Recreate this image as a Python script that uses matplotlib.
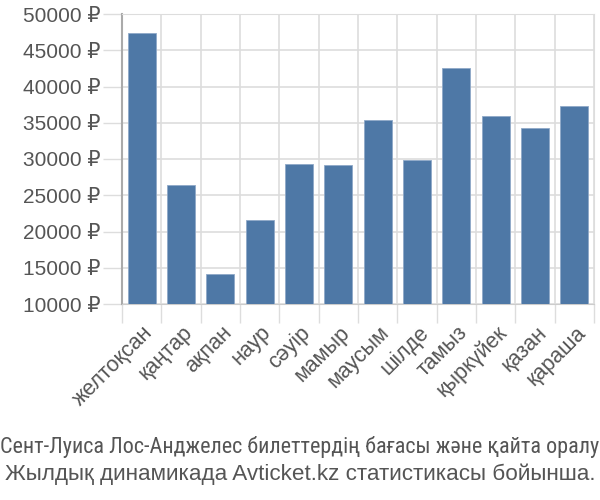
import matplotlib
matplotlib.use("Agg")
import matplotlib.pyplot as plt
import matplotlib.transforms as mtransforms
import numpy as np

months = ["желтоқсан", "қаңтар", "ақпан", "наур", "сәуір", "мамыр", "маусым",
          "шілде", "тамыз", "қыркүйек", "қазан", "қараша"]
prices = [47340, 26370, 14180, 21540, 29310, 29130, 35380, 29900, 42550, 35930, 34320, 37310]
yticks = [10000, 15000, 20000, 25000, 30000, 35000, 40000, 45000, 50000]
caption = ["Сент-Луиса Лос-Анджелес билеттердің бағасы және қайта оралу",
           "Жылдық динамикада Avticket.kz статистикасы бойынша."]

fam = ["Liberation Sans", "DejaVu Sans"]
nfam = ["Roboto Condensed", "DejaVu Sans"]
txt = "#555555"

fig = plt.figure(figsize=(6, 5), dpi=100)
ax = fig.add_axes([122/600, 1-304/500, (594-122)/600, (304-14)/500])

x = np.arange(len(months))
ax.bar(x, prices, width=0.72, color="#4e78a6", edgecolor="#8fa9c8", linewidth=0.6, zorder=3)
ax.set_xlim(-0.5, len(months)-0.5)
ax.set_ylim(10000, 50000)

ax.set_yticks(yticks)
ax.set_yticklabels([f"{v} ₽" for v in yticks], fontfamily=fam, fontsize=15, color=txt)
ax.tick_params(axis="y", length=13.7, color="#dddddd", width=1, pad=2)

ax.set_xticks(np.append(x - 0.5, len(months)-0.5))
ax.set_xticklabels([])
ax.set_xticks(x, minor=True)
ax.set_xticklabels(months, minor=True, rotation=45, ha="right", va="top", rotation_mode="anchor",
                   fontfamily=fam, fontsize=15.5, color=txt)
ax.tick_params(axis="x", which="major", length=13.7, color="#dddddd", width=1)
ax.tick_params(axis="x", which="minor", length=0, pad=13)
off = mtransforms.ScaledTranslation(1/100, 0, fig.dpi_scale_trans)
for lbl in ax.get_xticklabels(minor=True):
    lbl.set_transform(lbl.get_transform() + off)

ax.grid(True, which="major", color="#dddddd", linewidth=1.2, zorder=0)
ax.set_axisbelow(True)
for s in ["top", "right"]:
    ax.spines[s].set_color("#dddddd")
ax.spines["bottom"].set_color("#cccccc")
ax.spines["left"].set_color("#aaaaaa")
ax.spines["left"].set_linewidth(1.5)

fig.text(0.5, 1-447/500, caption[0], ha="center", va="center", fontfamily=nfam, fontsize=15.9, color=txt)
fig.text(0.5, 1-474/500, caption[1], ha="center", va="center", fontfamily=fam, fontsize=16.2, color=txt)

fig.savefig("out.png", dpi=100)
